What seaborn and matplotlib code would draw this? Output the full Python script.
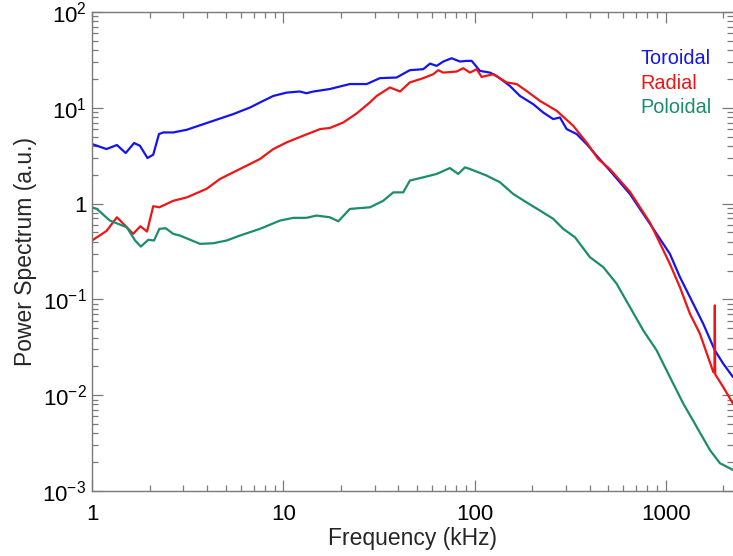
import numpy as np
import pandas as pd
import seaborn as sns
import matplotlib.pyplot as plt
from matplotlib.ticker import LogLocator, FixedLocator, FixedFormatter, NullFormatter

# values (frequency in kHz, power in a.u.)
tor_freq = [1.00, 1.19, 1.35, 1.50, 1.66, 1.78, 1.95, 2.09, 2.24, 2.36, 2.66, 3.13,
            4.31, 5.48, 6.70, 7.55, 8.87, 10.4, 12.2, 13.2, 14.4, 17.5, 22.3, 27.3,
            32.0, 39.1, 45.9, 53.9, 58.5, 63.4, 68.6, 75.9, 83.9, 90.9, 96.6, 106.7,
            120.4, 130.5, 153.1, 172.7, 202.8, 228.6, 257.8, 279.5, 303, 342, 385,
            435, 510, 649, 826, 1050, 1185, 1336, 1568, 1804, 1994, 2242]
tor_power = [4.19, 3.71, 4.09, 3.37, 4.29, 4.02, 2.99, 3.24, 5.32, 5.53, 5.53, 5.90,
             7.32, 8.60, 10.07, 11.36, 13.3, 14.4, 14.8, 14.2, 14.8, 15.7, 17.7, 17.7,
             20.4, 20.7, 24.7, 25.3, 28.9, 27.4, 30.4, 32.9, 30.4, 30.9, 30.9, 24.3,
             23.3, 21.5, 16.9, 13.3, 10.9, 8.93, 7.62, 7.93, 6.00, 5.32, 4.19,
             3.16, 2.21, 1.26, 0.615, 0.299, 0.171, 0.106, 0.0558, 0.0294, 0.0214, 0.0155]

rad_freq = [1.00, 1.19, 1.35, 1.49, 1.64, 1.79, 1.94, 2.09, 2.25, 2.66, 3.13, 3.98,
            4.67, 5.94, 7.55, 8.87, 10.4, 12.7, 15.6, 17.5, 20.6, 24.2, 28.4, 30.8,
            36.1, 40.8, 45.9, 53.9, 60.8, 64.6, 68.6, 80.6, 87.3, 94.6, 102.6, 108.9,
            125.2, 147.2, 166, 187, 219.8, 268.7, 328, 385, 443, 510, 649, 826, 1050,
            1185, 1336, 1507, 1770, 1795, 1804, 1812, 1994, 2242]
rad_power = [0.412, 0.517, 0.72, 0.59, 0.483, 0.58, 0.511, 0.94, 0.915, 1.07, 1.16, 1.43,
             1.81, 2.30, 2.92, 3.71, 4.35, 5.11, 6.00, 6.15, 7.03, 8.74, 11.4, 13.3,
             16.3, 14.8, 18.4, 20.4, 22.4, 24.7, 23.3, 23.9, 25.9, 23.3, 25.3, 21.0,
             22.4, 18.4, 17.7, 15.0, 11.8, 9.31, 6.49, 4.35, 2.92, 2.29, 1.33, 0.634, 0.235,
             0.134, 0.071, 0.0439, 0.0175, 0.0172, 0.0866, 0.0165, 0.0122, 0.0082]

pol_freq = [1.00, 1.06, 1.24, 1.52, 1.68, 1.80, 1.97, 2.11, 2.25, 2.43, 2.66, 2.88,
            3.67, 4.31, 5.06, 5.94, 7.55, 9.61, 11.3, 13.2, 14.9, 17.5, 19.4, 22.3,
            28.4, 33.3, 37.6, 42.4, 45.9, 53.9, 63.4, 74.3, 82.1, 89.1, 94.4, 115.7,
            135.8, 159.3, 187, 219.8, 257.9, 290.9, 334.7, 401, 471, 553, 649, 762,
            895, 1050, 1233, 1449, 1702, 1919, 2242]
pol_power = [0.915, 0.88, 0.665, 0.566, 0.412, 0.356, 0.419, 0.412, 0.545, 0.553, 0.483, 0.464,
             0.380, 0.386, 0.412, 0.464, 0.545, 0.665, 0.71, 0.71, 0.75, 0.72, 0.654, 0.88,
             0.915, 1.07, 1.31, 1.31, 1.74, 1.88, 2.04, 2.35, 2.04, 2.39, 2.30, 1.96,
             1.67, 1.26, 1.03, 0.846, 0.693, 0.545, 0.446, 0.276, 0.217, 0.146, 0.0832, 0.0475,
             0.0294, 0.0155, 0.0082, 0.00468, 0.00267, 0.00195, 0.00166]

components = ["Toroidal", "Radial", "Poloidal"]
palette = {"Toroidal": "#1414ee", "Radial": "#f01414", "Poloidal": "#1b8c6c"}

df = pd.concat([
    pd.DataFrame({"freq": tor_freq, "power": tor_power, "component": "Toroidal"}),
    pd.DataFrame({"freq": rad_freq, "power": rad_power, "component": "Radial"}),
    pd.DataFrame({"freq": pol_freq, "power": pol_power, "component": "Poloidal"}),
])

sns.set_style("ticks")
plt.rcParams["font.family"] = ["Liberation Sans", "DejaVu Sans"]
plt.rcParams["mathtext.fontset"] = "custom"
plt.rcParams["mathtext.rm"] = "Liberation Sans"
plt.rcParams["mathtext.it"] = "Liberation Sans:italic"

fig = plt.figure(figsize=(7.33, 5.56), dpi=100)
ax = fig.add_axes([92 / 733, 65 / 556, 641 / 733, 479 / 556])

sns.lineplot(data=df, x="freq", y="power", hue="component", hue_order=components,
             palette=palette, estimator=None, sort=True, linewidth=1.6, ax=ax)

ax.set_xscale("log")
ax.set_yscale("log")
ax.set_xlim(1, 2245)
ax.set_ylim(1e-3, 1e2)

ax.xaxis.set_major_locator(FixedLocator([1, 10, 100, 1000]))
ax.xaxis.set_major_formatter(FixedFormatter(["1", "10", "100", "1000"]))
ax.xaxis.set_minor_locator(LogLocator(base=10, subs=np.arange(2, 10), numticks=20))
ax.xaxis.set_minor_formatter(NullFormatter())
ax.yaxis.set_major_locator(FixedLocator([1e-3, 1e-2, 1e-1, 1, 10, 100]))
ax.yaxis.set_major_formatter(FixedFormatter(
    ["$10^{-3}$", "$10^{-2}$", "$10^{-1}$", "1", "$10^{1}$", "$10^{2}$"]))
ax.yaxis.set_minor_locator(LogLocator(base=10, subs=np.arange(2, 10), numticks=20))
ax.yaxis.set_minor_formatter(NullFormatter())

spine_col = "#7a7a7a"
for side in ["left", "bottom", "top"]:
    ax.spines[side].set_color(spine_col)
    ax.spines[side].set_linewidth(1.0)
ax.spines["right"].set_visible(False)
ax.tick_params(which="both", direction="in", top=True, right=True,
               color=spine_col, width=0.9, labelsize=16, labelcolor="black")
ax.tick_params(which="major", length=8)
ax.tick_params(which="minor", length=4.5)
ax.tick_params(axis="x", pad=9)
ax.tick_params(axis="y", pad=4)

ax.set_xlabel("Frequency (kHz)", fontsize=16.5, labelpad=2)
ax.set_ylabel("Power Spectrum (a.u.)", fontsize=16.5, labelpad=4)

leg = ax.legend(loc="upper left", bbox_to_anchor=(0.856, 0.922), frameon=False,
                handlelength=0, handletextpad=0, borderpad=0, borderaxespad=0,
                labelspacing=0.28, fontsize=14.3, labelcolor="linecolor")
for h in leg.legend_handles:
    h.set_visible(False)

fig.savefig("out.png", dpi=100)
